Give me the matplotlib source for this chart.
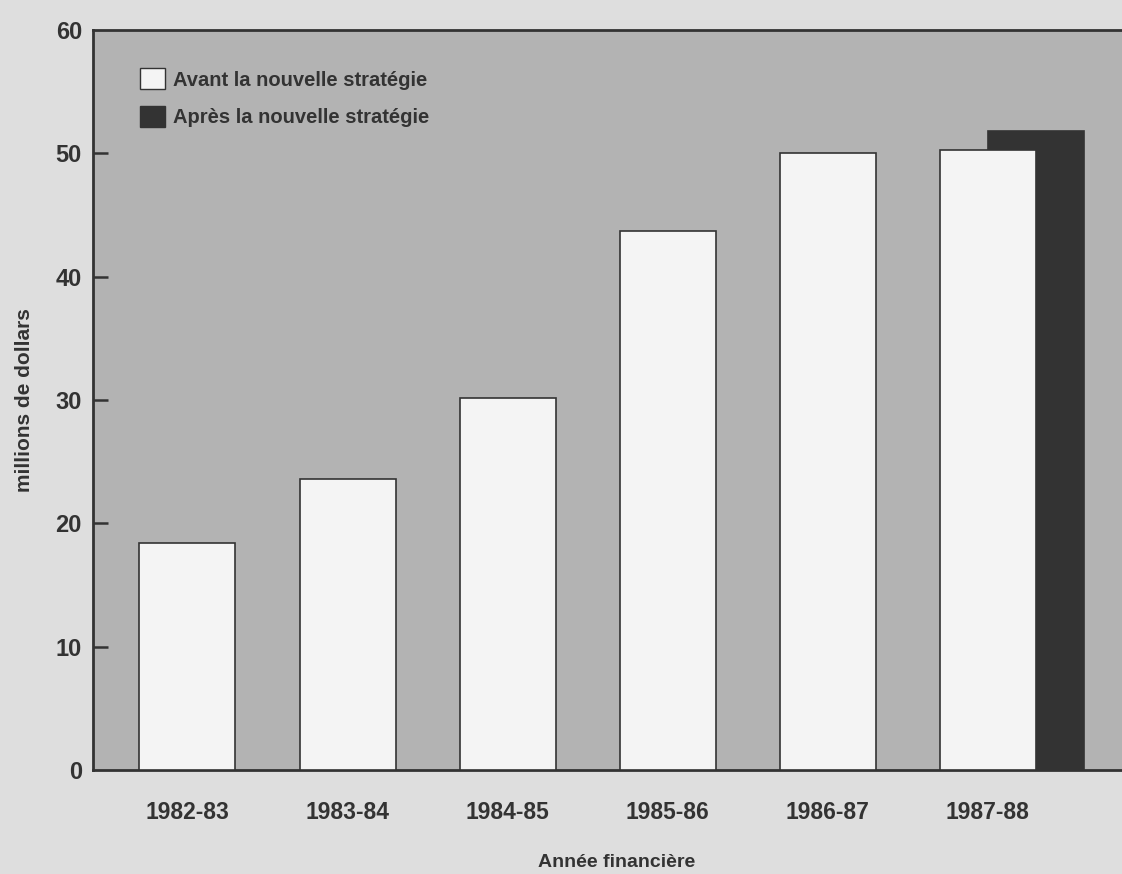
import numpy as np
import matplotlib
matplotlib.use('Agg')
import matplotlib.pyplot as plt
from matplotlib.patches import Patch

plt.rcParams['font.family'] = ['Liberation Sans', 'DejaVu Sans']
plt.rcParams['font.weight'] = 'bold'

years = ['1982-83', '1983-84', '1984-85', '1985-86', '1986-87', '1987-88']
avant = [18.4, 23.6, 30.2, 43.7, 50.0, 50.3]
apres_year = '1987-88'
apres = 51.8

ink = '#333333'
x = np.arange(len(years))

fig = plt.figure(figsize=(11.22, 8.74), dpi=100, facecolor='#dedede')
ax = fig.add_axes([93/1122, 104/874, 1047/1122, 740/874])
ax.set_facecolor('#b3b3b3')

w = 0.6
ax.bar(years.index(apres_year) + w/2, apres, width=w, color=ink, edgecolor=ink,
       linewidth=1.2, zorder=2)
ax.bar(x, avant, width=w, color='#f4f4f4', edgecolor=ink, linewidth=1.2, zorder=3)

ax.set_xlim(-0.59, 5.95)
ax.set_ylim(0, 60)
ax.set_yticks([0, 10, 20, 30, 40, 50, 60])
ax.set_xticks(x)
ax.set_xticklabels(years)
ax.tick_params(axis='y', direction='in', length=11, width=1.8, color=ink,
               labelsize=17, labelcolor=ink, pad=8)
ax.tick_params(axis='x', length=0, labelsize=16.5, labelcolor=ink, pad=22)
ax.yaxis.get_major_ticks()[-1].tick1line.set_visible(False)
ax.yaxis.get_major_ticks()[0].tick1line.set_visible(False)
for s in ['left', 'bottom', 'top']:
    ax.spines[s].set_linewidth(2)
    ax.spines[s].set_color(ink)
ax.spines['right'].set_visible(False)

ax.set_xlabel('Année financière', fontsize=14, fontweight='bold', color=ink, labelpad=22)
ax.set_ylabel('millions de dollars', fontsize=15, fontweight='bold', color=ink)
ax.yaxis.set_label_coords(-0.056, 0.5)

handles = [Patch(facecolor='#f4f4f4', edgecolor=ink, linewidth=1),
           Patch(facecolor=ink, edgecolor=ink)]
ax.legend(handles, ['Avant la nouvelle stratégie', 'Après la nouvelle stratégie'],
          loc='upper left', bbox_to_anchor=(0.035, 0.962), frameon=False,
          borderpad=0, handlelength=1.25, handleheight=1.25, handletextpad=0.4,
          labelspacing=0.8, fontsize=14.5, labelcolor=ink)

fig.savefig('out.png', dpi=100, facecolor=fig.get_facecolor())
